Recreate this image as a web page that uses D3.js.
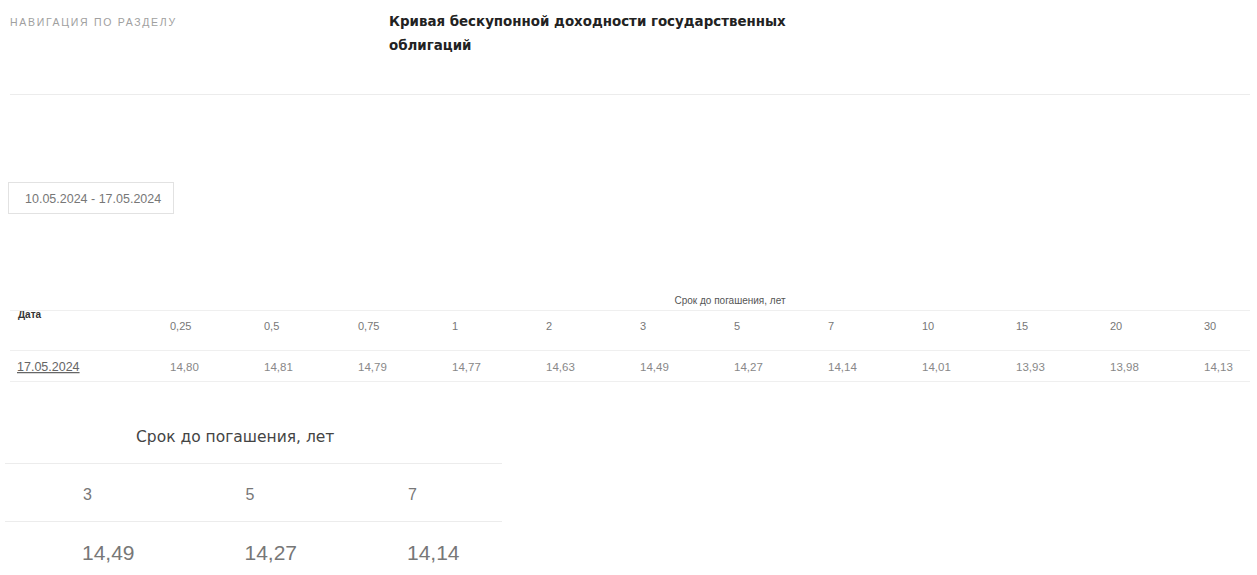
<!DOCTYPE html>
<html><head><meta charset="utf-8">
<script src="https://cdn.jsdelivr.net/npm/d3@7"></script>
<style>body{margin:0;background:#fff;} svg{display:block;font-family:"Liberation Sans",Arial,sans-serif;}</style>
</head><body><svg id="c" width="1257" height="575"></svg>
<script>
const navLabel = "НАВИГАЦИЯ ПО РАЗДЕЛУ";
const titleLines = ["Кривая бескупонной доходности государственных", "облигаций"];
const dateRange = "10.05.2024 - 17.05.2024";
const tableDate = "17.05.2024";
const groupLabel = "Срок до погашения, лет";
const maturities = ["0,25","0,5","0,75","1","2","3","5","7","10","15","20","30"];
const yields = [14.80,14.81,14.79,14.77,14.63,14.49,14.27,14.14,14.01,13.93,13.98,14.13];
const focusMaturities = ["3","5","7"];

const fmt = v => d3.format(".2f")(v).replace(".", ",");
const svg = d3.select("#c");

svg.append("text").attr("x",10).attr("y",26).attr("font-size",10.5).attr("letter-spacing",1.7)
  .attr("fill","#a0a0a0").text(navLabel);
svg.selectAll("text.title").data(titleLines).join("text").attr("class","title")
  .attr("x",389).attr("y",(d,i)=>26+i*24).attr("font-size",13.4).attr("font-weight","bold")
  .attr("font-family","DejaVu Sans").attr("fill","#222").text(d=>d);
svg.append("line").attr("x1",10).attr("x2",1250).attr("y1",94.5).attr("y2",94.5).attr("stroke","#ececec");

// date box
svg.append("rect").attr("x",8.5).attr("y",182.5).attr("width",165).attr("height",31)
  .attr("fill","#fff").attr("stroke","#e2e2e2");
svg.append("text").attr("x",25).attr("y",203).attr("font-size",12.5).attr("fill","#777").text(dateRange);

// big table
const x = d3.scaleBand().domain(maturities).range([160, 1288]).paddingInner(0);
svg.append("text").attr("x",18).attr("y",318).attr("font-size",10).attr("font-weight","bold").attr("fill","#333").text("Дата");
svg.append("text").attr("x",730).attr("y",304).attr("font-size",10).attr("text-anchor","middle").attr("fill","#555").text(groupLabel);
[310.5, 350.5, 381.5].forEach(y=>svg.append("line").attr("x1",10).attr("x2",1250).attr("y1",y).attr("y2",y).attr("stroke","#efefef"));
svg.selectAll("text.mat").data(maturities).join("text").attr("class","mat")
  .attr("x",d=>x(d)+10).attr("y",330).attr("font-size",11).attr("fill","#777").text(d=>d);
svg.selectAll("text.val").data(yields).join("text").attr("class","val")
  .attr("x",(d,i)=>x(maturities[i])+10).attr("y",371).attr("font-size",11.5).attr("fill","#888").text(d=>fmt(d));
svg.append("text").attr("x",17).attr("y",371).attr("font-size",12.5).attr("fill","#666")
  .attr("text-decoration","underline").text(tableDate);

// small table
const x2 = d3.scalePoint().domain(focusMaturities).range([83, 408]);
svg.append("text").attr("x",136).attr("y",442).attr("font-size",15.5).attr("font-family","DejaVu Sans").attr("fill","#444").text(groupLabel);
[463.5, 521.5].forEach(y=>svg.append("line").attr("x1",5).attr("x2",502).attr("y1",y).attr("y2",y).attr("stroke","#ececec"));
svg.selectAll("text.fm").data(focusMaturities).join("text").attr("class","fm")
  .attr("x",d=>x2(d)).attr("y",500).attr("font-size",16).attr("fill","#777").text(d=>d);
svg.selectAll("text.fv").data(focusMaturities).join("text").attr("class","fv")
  .attr("x",d=>x2(d)-1).attr("y",560).attr("font-size",21).attr("fill","#777")
  .text(d=>fmt(yields[maturities.indexOf(d)]));
</script></body></html>
